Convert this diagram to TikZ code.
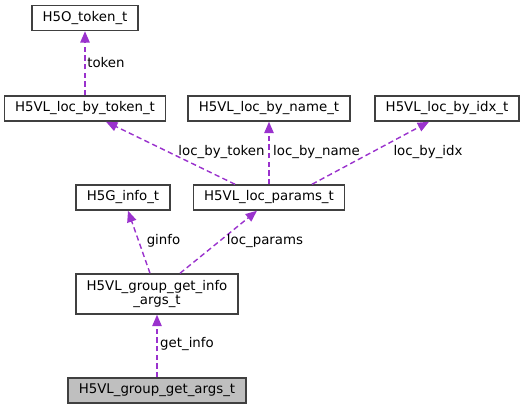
\documentclass[tikz,border=0pt]{standalone}
\usepackage{fontspec}
\setmainfont{DejaVu Sans}
\usetikzlibrary{arrows.meta}
\definecolor{edgepurple}{HTML}{9A32CD}
\definecolor{boxgray}{HTML}{BFBFBF}
\tikzset{
  box/.style={draw=black!75, line width=1.1pt, fill=white, minimum height=18.75pt,
    inner xsep=8pt, inner ysep=1pt, align=center, font=\fontsize{10}{10.5}\selectfont},
  edge/.style={edgepurple, line width=1.05pt, dash pattern=on 4pt off 2.5pt,
    -{Triangle[length=8.5pt,width=7pt]}},
  lbl/.style={font=\fontsize{10}{12}\selectfont, inner sep=0pt}
}
\begin{document}
\begin{tikzpicture}[x=0.75pt, y=-0.75pt]
            \useasboundingbox (0,0) rectangle (525,409);
            % boxes
            \node[box] (token) at (85,18) {H5O\_token\_t};
            \node[box] (locbytoken) at (85,108.5) {H5VL\_loc\_by\_token\_t};
            \node[box] (locbyname) at (269,108.5) {H5VL\_loc\_by\_name\_t};
            \node[box] (locbyidx) at (447,108.5) {H5VL\_loc\_by\_idx\_t};
            \node[box] (ginfo) at (123,197.5) {H5G\_info\_t};
            \node[box] (locparams) at (269,197.5) {H5VL\_loc\_params\_t};
            \node[box, minimum height=30pt] (getinfo) at (157,294) {H5VL\_group\_get\_info\\\_args\_t};
            \node[box, fill=boxgray] (getargs) at (157,390.5) {H5VL\_group\_get\_args\_t};
            % edges
            \draw[edge] (locbytoken.north) -- (token.south);
            \draw[edge] ([xshift=-25.5pt]locparams.north) -- ([xshift=15.75pt]locbytoken.south);
            \draw[edge] (locparams.north) -- (locbyname.south);
            \draw[edge] ([xshift=32.25pt]locparams.north) -- ([xshift=-13.5pt]locbyidx.south);
            \draw[edge] ([xshift=-5.25pt]getinfo.north) -- ([xshift=3.75pt]ginfo.south);
            \draw[edge] ([xshift=17.25pt]getinfo.north) -- ([xshift=-9pt]locparams.south);
            \draw[edge] (getargs.north) -- (getinfo.south);
            % labels
            \node[lbl] (lbltoken) at (106,63) {token};
            \node[lbl] (lblbytoken) at (221.5,152) {loc\_by\_token};
            \node[lbl] (lblbyname) at (316.5,152) {loc\_by\_name};
            \node[lbl] (lblbyidx) at (428,152) {loc\_by\_idx};
            \node[lbl] (lblginfo) at (163.5,241) {ginfo};
            \node[lbl] (lblparams) at (265,241) {loc\_params};
            \node[lbl] (lblgetinfo) at (187,344) {get\_info};
\end{tikzpicture}
\end{document}
